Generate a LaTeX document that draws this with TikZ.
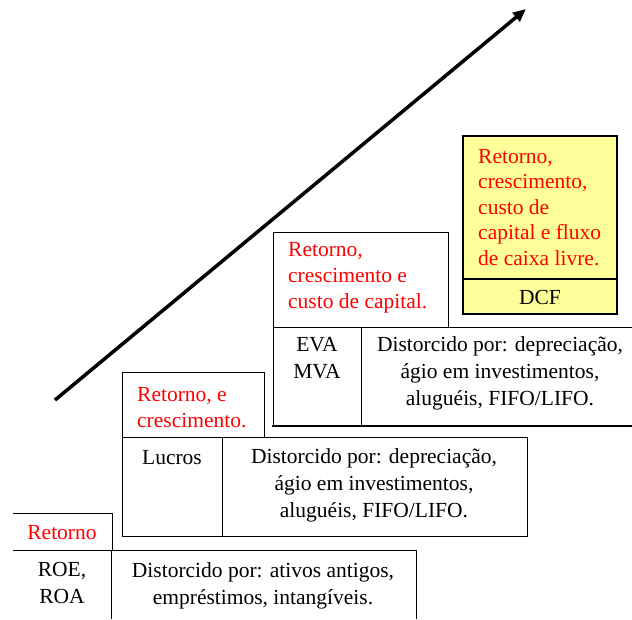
\documentclass[tikz,border=0pt]{standalone}
\usepackage{fontspec}
\setmainfont{Liberation Serif}
\usetikzlibrary{arrows.meta}
\definecolor{paleyellow}{RGB}{255,255,153}

\begin{document}
\begin{tikzpicture}[x=1pt, y=-1pt,
    frame/.style={line width=1pt},
    heavy/.style={line width=2pt},
    goal/.style={anchor=base west, inner sep=0pt, align=left, text=red, font=\fontsize{21.5}{26}\selectfont},
    measure/.style={anchor=base, inner sep=0pt, align=center, font=\fontsize{21.5}{27}\selectfont}]

    \useasboundingbox (0,0) rectangle (632,619);

    % arrow
    \coordinate (start) at (55,400);
    \coordinate (stop) at (526,9);
    \draw[-{Triangle[length=13pt,width=11pt]}, line width=3.5pt] (start) -- (stop);

    % step 1: ROE, ROA  (nodes sit on the baseline of their last line)
    \draw[frame] (13,513) -- (112,513) -- (112,550);
    \draw[frame] (13,550) -- (416,550) -- (416,619);
    \draw[frame] (111,550) -- (111,619);
    \node[goal, anchor=base] (ret1) at (62,539) {Retorno};
    \node[measure] (roe) at (62,603) {ROE,\\ROA};
    \node[measure] (dist1) at (263,604) {Distorcido por: ativos antigos,\\empréstimos, intangíveis.};

    % step 2: Lucros
    \draw[frame] (122,437) -- (122,372) -- (264,372) -- (264,437);
    \draw[frame] (122,437) rectangle (527,536);
    \draw[frame] (222,437) -- (222,536);
    \node[goal] (ret2) at (137,427) {Retorno, e\\crescimento.};
    \node[measure] (lucros) at (172,464) {Lucros};
    \node[measure] (dist2) at (374,517) {Distorcido por: depreciação,\\ágio em investimentos,\\aluguéis, FIFO/LIFO.};

    % step 3: EVA, MVA
    \draw[frame] (273,327) -- (273,232) -- (448,232) -- (448,327);
    \draw[frame] (633,327) -- (273,327) -- (273,426);
    \draw[heavy] (272,426) -- (633,426);
    \draw[frame] (361,327) -- (361,426);
    \node[goal] (ret3) at (288,308) {Retorno,\\crescimento e\\custo de capital.};
    \node[measure] (eva) at (317,378) {EVA\\MVA};
    \node[measure] (dist3) at (500,405) {Distorcido por: depreciação,\\ágio em investimentos,\\aluguéis, FIFO/LIFO.};

    % step 4: DCF
    \draw[heavy, fill=paleyellow] (463,136) rectangle (617,314);
    \draw[heavy] (463,279) -- (617,279);
    \node[goal, font=\fontsize{21.5}{25.5}\selectfont] (ret4) at (478,265) {Retorno,\\crescimento,\\custo de\\capital e fluxo\\de caixa livre.};
    \node[measure] (dcf) at (540,304) {DCF};

\end{tikzpicture}
\end{document}
